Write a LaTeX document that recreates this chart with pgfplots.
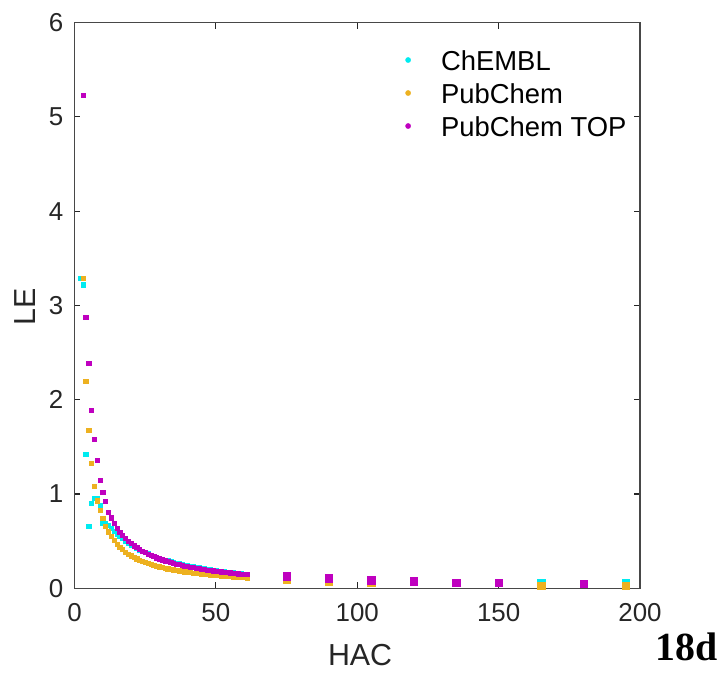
\documentclass[border=0pt]{standalone}
\usepackage{pgfplots}
\pgfplotsset{compat=1.18}
\usepackage{fontspec}
\setmainfont{Liberation Sans}
\newfontfamily\serifbold{Liberation Serif}

\definecolor{cchembl}{RGB}{0,235,240}
\definecolor{cpub}{RGB}{237,177,32}
\definecolor{ctop}{RGB}{191,0,191}
\definecolor{axgray}{RGB}{38,38,38}

\begin{document}
\begin{tikzpicture}
\begin{axis}[
    width=565.5bp, height=565.6bp, scale only axis,
    xmin=0, xmax=200, ymin=0, ymax=6,
    xtick={0,50,...,200}, ytick={0,1,...,6},
    tick align=inside, major tick length=6bp,
    axis line style={axgray!85, line width=1.1bp},
    tick style={axgray, line width=1.1bp},
    /pgf/number format/assume math mode=true,
    tick label style={font=\fontsize{26}{30}\selectfont, text=axgray},
    xticklabel style={inner sep=0pt, yshift=-15bp},
    yticklabel style={inner sep=0pt, xshift=-11bp},
    xlabel={HAC}, ylabel={LE},
    label style={font=\fontsize{30.5}{36}\selectfont, text=axgray},
    xlabel style={at={(axis description cs:0.505,-0.118)}, anchor=center, inner sep=0pt},
    ylabel style={at={(axis description cs:-0.0867,0.498)}, anchor=center, inner sep=0pt},
    clip=false,
    legend cell align=left,
    legend style={draw=none, fill=none, inner sep=0pt,
        at={(rel axis cs:0.585,0.952)}, anchor=north west,
        font=\fontsize{27.5}{32}\selectfont, row sep=13bp,
        nodes={inner sep=0pt, text height=20bp, text depth=0bp}},
    legend image code/.code={\path[draw=none, fill=none] (-2.6bp,0bp) -- (33bp,0bp);
        \draw[#1, mark=*, mark size=2.6bp] plot coordinates {(0bp,0bp)};},
]

% ChEMBL
\addplot[only marks, mark=square*, mark size=2.1bp, color=cchembl] coordinates {
(2,3.29)(3,3.22)(4,1.42)(5,0.66)(6,0.90)(7,0.96)(8,0.96)(9,0.88)(10,0.69)
(11,0.691)(12,0.667)(13,0.638)(14,0.607)(15,0.580)(16,0.553)(17,0.529)(18,0.506)
(19,0.484)(20,0.4635)(21,0.444)(22,0.426)(23,0.410)(24,0.394)(25,0.380)(26,0.3665)
(27,0.354)(28,0.342)(29,0.331)(30,0.3207)(31,0.311)(32,0.3016)(33,0.2924)(34,0.2838)
(35,0.2757)(36,0.268)(37,0.2608)(38,0.254)(39,0.2474)(40,0.2413)(41,0.2354)(42,0.2298)
(43,0.2244)(44,0.2193)(45,0.214)(46,0.2087)(47,0.2038)(48,0.199)(49,0.1943)(50,0.190)
(51,0.1855)(52,0.1812)(53,0.177)(54,0.173)(55,0.169)(56,0.1654)(57,0.1618)(58,0.1583)
(59,0.155)(60,0.1517)(61,0.1485)
};
\addlegendentry{ChEMBL}
\addplot[only marks, mark=square*, mark size=3.7bp, color=cchembl, forget plot] coordinates {
(165,0.055)(195,0.055)
};

% PubChem
\addplot[only marks, mark=square*, mark size=2.1bp, color=cpub] coordinates {
(3,3.29)(4,2.20)(5,1.68)(6,1.33)(7,1.08)(8,0.93)(9,0.83)(10,0.74)(11,0.66)
(12,0.600)(13,0.550)(14,0.507)(15,0.470)(16,0.4375)(17,0.411)(18,0.387)(19,0.365)
(20,0.346)(21,0.329)(22,0.314)(23,0.300)(24,0.2875)(25,0.276)(26,0.265)(27,0.2555)
(28,0.246)(29,0.238)(30,0.230)(31,0.2226)(32,0.2156)(33,0.209)(34,0.203)(35,0.197)
(36,0.1917)(37,0.1865)(38,0.1816)(39,0.177)(40,0.1725)(41,0.1683)(42,0.1643)
(43,0.1605)(44,0.1568)(45,0.1533)(46,0.150)(47,0.1468)(48,0.1438)(49,0.1408)
(50,0.138)(51,0.1353)(52,0.1327)(53,0.1302)(54,0.1278)(55,0.1255)(56,0.1232)
(57,0.1211)(58,0.119)(59,0.117)(60,0.115)(61,0.1131)
};
\addlegendentry{PubChem}
\addplot[only marks, mark=square*, mark size=3.7bp, color=cpub, forget plot] coordinates {
(75,0.098)(90,0.075)(105,0.057)(165,0.029)(195,0.029)
};

% PubChem TOP
\addplot[only marks, mark=square*, mark size=2.1bp, color=ctop] coordinates {
(3,5.23)(4,2.88)(5,2.39)(6,1.89)(7,1.58)(8,1.36)(9,1.15)(10,1.02)(11,0.92)
(12,0.81)(13,0.75)(14,0.69)(15,0.640)(16,0.599)(17,0.563)(18,0.531)(19,0.5025)
(20,0.477)(21,0.453)(22,0.432)(23,0.413)(24,0.395)(25,0.379)(26,0.364)(27,0.350)
(28,0.337)(29,0.325)(30,0.3135)(31,0.303)(32,0.293)(33,0.284)(34,0.275)(35,0.267)
(36,0.259)(37,0.252)(38,0.245)(39,0.238)(40,0.232)(41,0.226)(42,0.220)(43,0.215)
(44,0.2096)(45,0.2047)(46,0.200)(47,0.1954)(48,0.191)(49,0.187)(50,0.183)
(51,0.179)(52,0.1754)(53,0.1718)(54,0.1684)(55,0.165)(56,0.162)(57,0.159)
(58,0.156)(59,0.153)(60,0.150)(61,0.1475)
};
\addlegendentry{PubChem TOP}
\addplot[only marks, mark=square*, mark size=3.7bp, color=ctop, forget plot] coordinates {
(75,0.127)(90,0.108)(105,0.087)(120,0.076)(135,0.060)(150,0.060)(180,0.047)
};

\node[anchor=base west, inner sep=0pt, font=\fontsize{40}{44}\selectfont\serifbold\bfseries]
    at (rel axis cs:1.0265,-0.1268) {18d};
\path (rel axis cs:-0.1317,-0.148) rectangle (rel axis cs:1.1485,1.0401);
\end{axis}
\end{tikzpicture}
\end{document}
